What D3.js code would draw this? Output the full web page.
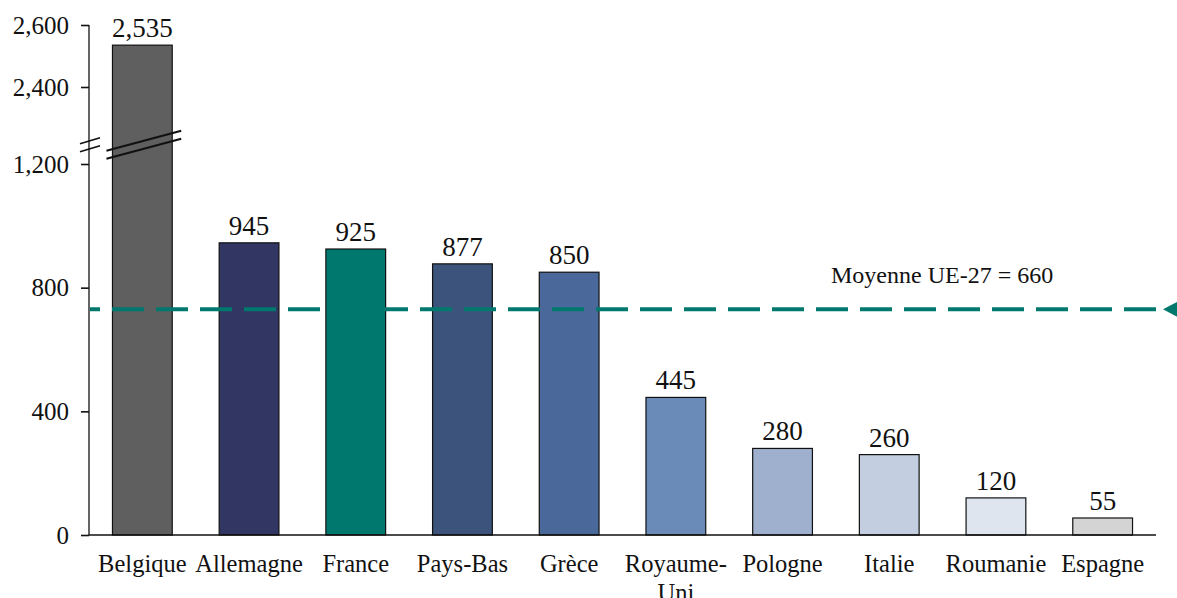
<!DOCTYPE html>
<html>
<head>
<meta charset="utf-8">
<script src="https://cdn.jsdelivr.net/npm/d3@7"></script>
<style>
  body { margin: 0; background: #fff; }
  text { font-family: "Liberation Serif", serif; fill: #111; }
</style>
</head>
<body>
<div id="chart"></div>
<script>
const w = 1177, h = 598;

// data
const countries = ['Belgique', 'Allemagne', 'France', 'Pays-Bas', 'Grèce', 'Royaume-Uni', 'Pologne', 'Italie', 'Roumanie', 'Espagne'];
const values = [2535, 945, 925, 877, 850, 445, 280, 260, 120, 55];
const barColors = ['#5f5f5f', '#313662', '#00786d', '#3c547c', '#4a699a', '#6a8bb8', '#9eb0cd', '#c3cee0', '#dfe5ef', '#d4d4d4'];
const yTicks = [0, 400, 800, 1200, 2400, 2600];
const meanLabel = 'Moyenne UE-27 = 660';
const meanLinePos = 730;   // where the dashed line sits on the axis

const x = d3.scaleBand()
  .domain(countries)
  .range([89, 1156])
  .paddingInner(0.44)
  .paddingOuter(0.22);

// broken axis: 1,200 -> 2,400 is squeezed
const y = d3.scaleLinear()
  .domain([0, 1200, 2400, 2600])
  .range([535, 164, 87, 25]);

const svg = d3.select('#chart')
  .append('svg')
  .attr('width', w)
  .attr('height', h);

svg.selectAll('.bar')
  .data(values)
  .enter()
  .append('rect')
  .attr('class', 'bar')
  .attr('x', (d, i) => x(countries[i]))
  .attr('y', d => y(d))
  .attr('width', x.bandwidth())
  .attr('height', d => y(0) - y(d))
  .attr('fill', (d, i) => barColors[i])
  .attr('stroke', '#111')
  .attr('stroke-width', 1.2);

svg.selectAll('.val')
  .data(values)
  .enter()
  .append('text')
  .attr('class', 'val')
  .attr('x', (d, i) => x(countries[i]) + x.bandwidth() / 2)
  .attr('y', d => y(d) - 8)
  .attr('text-anchor', 'middle')
  .attr('font-size', '27px')
  .text(d => d3.format(',')(d));

// y axis
const yAxis = d3.axisLeft(y)
  .tickValues(yTicks)
  .tickFormat(d3.format(','))
  .tickSize(8)
  .tickPadding(12);

const gy = svg.append('g')
  .attr('transform', 'translate(89,0)')
  .call(yAxis);
gy.select('.domain').attr('d', 'M0,' + y(2600) + 'V' + y(0)).attr('stroke', '#111').attr('stroke-width', 1.3);
gy.selectAll('.tick line').attr('stroke', '#111').attr('stroke-width', 1.6);
gy.selectAll('.tick text')
  .attr('font-family', 'Liberation Serif, serif')
  .attr('font-size', '25px')
  .attr('fill', '#111');

// x axis line
svg.append('line')
  .attr('x1', 89).attr('x2', 1156)
  .attr('y1', y(0)).attr('y2', y(0))
  .attr('stroke', '#111')
  .attr('stroke-width', 1.3);

// category labels, Royaume-Uni wraps
svg.selectAll('.cat')
  .data(countries)
  .enter()
  .append('text')
  .attr('class', 'cat')
  .attr('x', d => x(d) + x.bandwidth() / 2)
  .attr('y', y(0) + 37)
  .attr('text-anchor', 'middle')
  .attr('font-size', '24.5px')
  .selectAll('tspan')
  .data(d => d === 'Royaume-Uni' ? ['Royaume-', 'Uni'] : [d])
  .enter()
  .append('tspan')
  .attr('x', function () { return this.parentNode.getAttribute('x'); })
  .attr('dy', (d, i) => i === 0 ? 0 : 29)
  .text(d => d);

// axis break marks
const breakY = y(1500);
[-4, 4].forEach(off => {
  svg.append('line')
    .attr('x1', 80).attr('y1', breakY + off + 3)
    .attr('x2', 100).attr('y2', breakY + off - 3)
    .attr('stroke', '#111').attr('stroke-width', 1.6);
});
const bx = x('Belgique');
[-4, 4].forEach(off => {
  svg.append('line')
    .attr('x1', bx - 6).attr('y1', breakY + off + 10)
    .attr('x2', bx + x.bandwidth() + 9).attr('y2', breakY + off - 10)
    .attr('stroke', '#111').attr('stroke-width', 2.2);
});

// mean line
const my = y(meanLinePos);
svg.append('line')
  .attr('x1', 90).attr('x2', 1166)
  .attr('y1', my).attr('y2', my)
  .attr('stroke', '#00786d')
  .attr('stroke-width', 4)
  .attr('stroke-dasharray', '32,12')
  .attr('stroke-dashoffset', 22);

svg.append('path')
  .attr('d', 'M1163,' + my + 'L1180,' + (my - 9) + 'L1180,' + (my + 9) + 'Z')
  .attr('fill', '#00786d');

svg.append('text')
  .attr('x', 831)
  .attr('y', my - 26)
  .attr('font-size', '24px')
  .text(meanLabel);
</script>
</body>
</html>
